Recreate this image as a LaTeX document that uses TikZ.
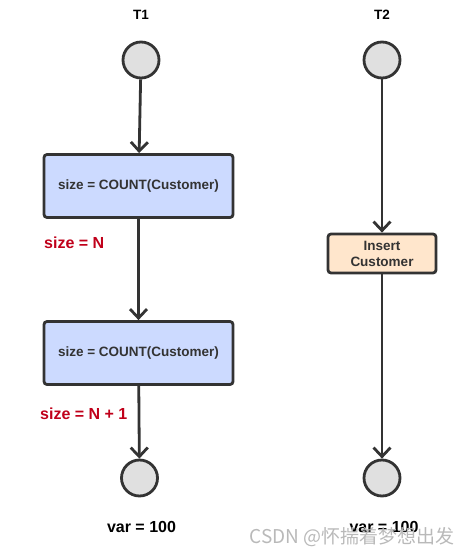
\documentclass[tikz,border=0pt]{standalone}
\usepackage{fontspec}
\setmainfont{Liberation Sans}
\newfontfamily\cjkfont{Noto Sans CJK SC}
\usetikzlibrary{arrows.meta}
\definecolor{linegray}{HTML}{333333}
\definecolor{qblue}{HTML}{CCDAFF}
\definecolor{qorange}{HTML}{FFE6CC}
\definecolor{stategray}{HTML}{E0E0E0}
\definecolor{notered}{HTML}{C0001A}
\begin{document}
\begin{tikzpicture}[x=1pt,y=-1pt,
  font=\fontsize{13.5}{16}\selectfont\bfseries,
  lbl/.style={text=black},
  state/.style={circle, draw=linegray, fill=stategray, line width=2.8pt, minimum size=36pt, inner sep=0pt},
  qbox/.style={draw=linegray, fill=qblue, line width=2.8pt, rounded corners=3pt, minimum width=189pt, minimum height=63pt, text=linegray},
  ibox/.style={draw=linegray, fill=qorange, line width=2.8pt, rounded corners=3pt, minimum width=108pt, minimum height=39pt, inner sep=1pt, align=center, text=linegray},
  note/.style={text=notered, anchor=west, inner sep=0pt, font=\fontsize{16}{18}\selectfont\bfseries},
  flow/.style={draw=linegray, line width=2.8pt, -{Straight Barb[length=9pt,width=17pt]}}]
\useasboundingbox (0,0) rectangle (473,556);

% T1
\node[lbl] (t1) at (141,15) {T1};
\node[state] (s1) at (141,60) {};
\node[qbox] (q1) at (138.5,186) {size = COUNT(Customer)};
\node[qbox] (q2) at (138.5,353) {size = COUNT(Customer)};
\node[state] (e1) at (139.5,478) {};
\node[lbl, font=\fontsize{16}{18}\selectfont\bfseries] (v1) at (141.5,527) {var = 100};
\node[note] (n1) at (44,243) {size = N};
\node[note] (n2) at (40,414) {size = N + 1};

\draw[flow] (s1) -- (q1);
\draw[flow] (q1) -- (q2);
\draw[flow] (q2) -- (e1);

% T2
\node[lbl] (t2) at (382,15) {T2};
\node[state] (s2) at (382,60) {};
\node[ibox] (ins) at (382,253.5) {Insert\\Customer};
\node[state] (e2) at (382,478) {};
\node[lbl, font=\fontsize{16}{18}\selectfont\bfseries] (v2) at (384,527) {var = 100};

\draw[flow] (s2) -- (ins);
\draw[flow] (ins) -- (e2);

\node[text=gray!55, font=\cjkfont\fontsize{19}{21}\selectfont] (wm) at (352,537) {CSDN @怀揣着梦想出发};
\end{tikzpicture}
\end{document}
